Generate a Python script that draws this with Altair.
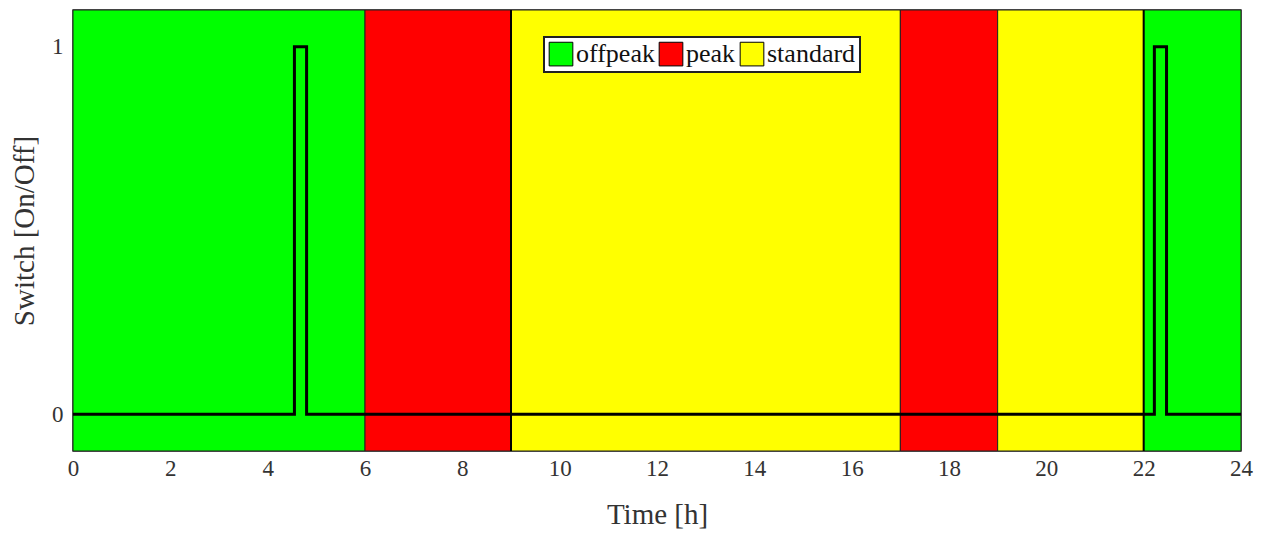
import altair as alt
import pandas as pd

# Tariff periods
seg_start = [0, 6, 9, 17, 19, 22]
seg_end = [6, 9, 17, 19, 22, 24]
seg_period = ["offpeak", "peak", "standard", "peak", "standard", "offpeak"]

# Switch state (step function)
sw_time = [0, 4.55, 4.8, 22.22, 22.47, 24]
sw_value = [0, 1, 0, 1, 0, 0]

# Thicker boundary lines
boundary_x = [9, 22]

periods = ["offpeak", "peak", "standard"]
colors = ["#00FF00", "#FF0000", "#FFFF00"]

FONT = "Liberation Serif"

seg_df = pd.DataFrame({"start": seg_start, "end": seg_end, "period": seg_period})
sw_df = pd.DataFrame({"t": sw_time, "v": sw_value})
b_df = pd.DataFrame({"x": boundary_x})

xscale = alt.Scale(domain=[0, 24], nice=False, zero=False)
yscale = alt.Scale(domain=[-0.1, 1.1], nice=False, zero=False)

rects = alt.Chart(seg_df).mark_rect(stroke="#222222", strokeWidth=1).encode(
    x=alt.X("start:Q", scale=xscale,
            axis=alt.Axis(title="Time [h]", values=list(range(0, 25, 2)),
                          grid=False, ticks=False, domain=False, labelFlush=False,
                          labelPadding=6, titlePadding=20)),
    x2="end:Q",
    y=alt.value(0),
    y2=alt.value(441),
    color=alt.Color("period:N", scale=alt.Scale(domain=periods, range=colors),
                    legend=alt.Legend(title=None, orient="none", direction="horizontal",
                                      legendX=471, legendY=27,
                                      symbolType="square", symbolSize=560,
                                      symbolStrokeColor="black", symbolStrokeWidth=1,
                                      symbolOpacity=1,
                                      labelFontSize=26, labelFont=FONT, labelColor="#111111",
                                      labelOffset=2, columnPadding=2,
                                      padding=4, strokeColor="#222222",
                                      fillColor="white")),
)

bounds = alt.Chart(b_df).mark_rule(color="black", strokeWidth=2).encode(
    x=alt.X("x:Q", scale=xscale),
)

line = alt.Chart(sw_df).mark_line(color="black", strokeWidth=3, interpolate="step-after").encode(
    x=alt.X("t:Q", scale=xscale),
    y=alt.Y("v:Q", scale=yscale,
            axis=alt.Axis(title="Switch [On/Off]", values=[0, 1], format="d", grid=False,
                          ticks=False, domain=False, labelPadding=10,
                          titlePadding=12)),
)

chart = alt.layer(rects, bounds, line).properties(
    width=1168, height=441,
    autosize=alt.AutoSizeParams(type="none"),
    padding={"left": 65, "top": 2, "right": 16, "bottom": 80},
).configure_view(
    stroke="#333333", strokeWidth=1.5
).configure_axis(
    labelFont=FONT, titleFont=FONT, labelFontSize=23, titleFontSize=29,
    labelColor="#333333", titleColor="#333333", titleFontWeight="normal",
).configure_legend(
    strokeWidth=2
)

chart.save("out.html", embed_options={"renderer": "svg", "actions": False})
